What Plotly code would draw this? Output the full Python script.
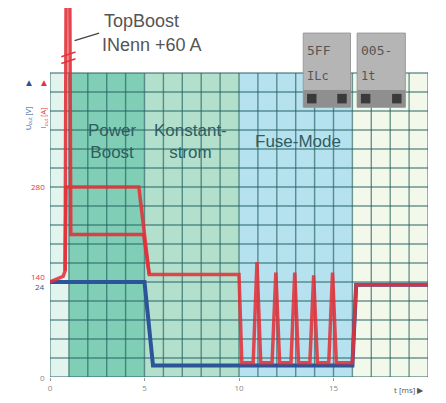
import plotly.graph_objects as go

# time axis [ms] and grid units (1 unit = 28 A / 4.8 V)
volt_x = [0, 5.0, 5.45, 16.0, 16.2, 20]
volt_y = [5.0, 5.0, 0.6, 0.6, 4.85, 4.85]

boost_x = [0, 0.7, 0.8, 0.85, 4.7, 5.25, 10.0, 10.15,
           10.75, 10.95, 11.15, 11.75, 11.95, 12.15, 12.75, 12.95, 13.15,
           13.75, 13.95, 14.15, 14.75, 14.95, 15.15, 16.0, 16.2, 20]
boost_y = [5.0, 5.3, 5.6, 10.0, 10.0, 5.4, 5.4, 0.75,
           0.75, 6.05, 0.75, 0.75, 5.5, 0.75, 0.75, 5.5, 0.75,
           0.75, 5.35, 0.75, 0.75, 5.5, 0.75, 0.75, 4.85, 4.85]

topboost_x = [0.8, 0.85, 1.05, 1.1, 4.95, 5.25]
topboost_y = [5.6, 19.6, 19.6, 7.5, 7.5, 5.4]

region_edges = [0, 1, 5, 10, 16, 20]
region_colors = ["#e3f4ee", "#7fceb5", "#b2e0cc", "#b6e1ef", "#f2f8ea"]

x_ticks = [0, 5, 10, 15]
x_tick_text = ["0", "5", "10", "15"]

grid_top = 16

fig = go.Figure()

fig.add_trace(go.Scatter(x=volt_x, y=volt_y, mode="lines",
                         line=dict(color="#2b5499", width=4), hoverinfo="skip"))
fig.add_trace(go.Scatter(x=topboost_x, y=topboost_y, mode="lines",
                         line=dict(color="#e3323a", width=3.5), opacity=0.9, hoverinfo="skip"))
fig.add_trace(go.Scatter(x=boost_x, y=boost_y, mode="lines",
                         line=dict(color="#e3323a", width=3.5), opacity=0.88, hoverinfo="skip"))

# background zones
for i, col in enumerate(region_colors):
    fig.add_shape(type="rect", x0=region_edges[i], x1=region_edges[i + 1], y0=0, y1=grid_top,
                  fillcolor=col, line=dict(width=0), layer="below")

# grid
for gx in range(0, 21):
    fig.add_shape(type="line", x0=gx, x1=gx, y0=0, y1=grid_top,
                  line=dict(color="rgba(35,95,95,0.65)", width=1.4), layer="below")
for gy in range(0, grid_top + 1):
    fig.add_shape(type="line", x0=0, x1=20, y0=gy, y1=gy,
                  line=dict(color="rgba(35,95,95,0.65)", width=1.4), layer="below")

# break marks on the TopBoost spike
for off in [0, 0.35]:
    fig.add_shape(type="line", x0=0.6, x1=1.35, y0=16.5 + off, y1=16.75 + off,
                  line=dict(color="#e3323a", width=1.5))

# leader line to TopBoost label
fig.add_shape(type="line", x0=1.3, x1=2.6, y0=17.7, y1=18.1, line=dict(color="#444", width=1.2))

# LCD displays
for bx0, bx1, top, bottom in [(13.4, 15.9, "5FF", "ILc"), (16.25, 18.8, "005-", "1t")]:
    fig.add_shape(type="rect", x0=bx0, x1=bx1, y0=14.2, y1=18.1,
                  fillcolor="#b5b5b5", line=dict(color="#9a9a9a", width=1))
    fig.add_shape(type="rect", x0=bx0, x1=bx1, y0=14.2, y1=15.1,
                  fillcolor="#8f8f8f", line=dict(width=0))
    fig.add_shape(type="rect", x0=bx0 + 0.2, x1=bx0 + 0.7, y0=14.4, y1=14.9,
                  fillcolor="#3a3a3a", line=dict(width=0))
    fig.add_shape(type="rect", x0=bx1 - 0.7, x1=bx1 - 0.2, y0=14.4, y1=14.9,
                  fillcolor="#3a3a3a", line=dict(width=0))
    fig.add_annotation(x=bx0 + 0.1, y=17.2, text=top, showarrow=False, xanchor="left",
                       font=dict(family="DejaVu Sans Mono", size=13, color="#555"))
    fig.add_annotation(x=bx0 + 0.1, y=15.85, text=bottom, showarrow=False, xanchor="left",
                       font=dict(family="DejaVu Sans Mono", size=12, color="#555"))

label_font = dict(family="Liberation Sans", size=17, color="#2f5d60")
fig.add_annotation(x=3.3, y=12.4, text="Power<br>Boost", showarrow=False, font=label_font)
fig.add_annotation(x=7.45, y=12.4, text="Konstant-<br>strom", showarrow=False, font=label_font)
fig.add_annotation(x=13.1, y=12.4, text="Fuse-Mode", showarrow=False, font=label_font)

top_font = dict(family="Liberation Sans", size=18, color="#555")
fig.add_annotation(x=2.75, y=18.75, text="TopBoost", showarrow=False, xanchor="left", font=top_font)
fig.add_annotation(x=2.65, y=17.45, text="INenn +60 A", showarrow=False, xanchor="left", font=top_font)

# y labels
ylab = [(0, "0", "#888", 0), (5, "140", "#e3323a", 5), (5, "24", "#2b5499", -5), (10, "280", "#e3323a", 0)]
for yv, txt, col, ys in ylab:
    fig.add_annotation(x=0, y=yv, text=txt, showarrow=False, xanchor="right", xshift=-3, yshift=ys,
                       font=dict(size=8, color=col))

# axis legend top-left
fig.add_annotation(xref="paper", yref="y", x=-0.074, y=15.5, text="▲", showarrow=False,
                   font=dict(size=10, color="#2b5499"))
fig.add_annotation(xref="paper", yref="y", x=-0.034, y=15.5, text="▲", showarrow=False,
                   font=dict(size=10, color="#e3323a"))
fig.add_annotation(xref="paper", yref="y", x=-0.074, y=13.6, text="U<sub>out</sub> [V]", showarrow=False,
                   textangle=-90, font=dict(size=7, color="#2b5499"))
fig.add_annotation(xref="paper", yref="y", x=-0.034, y=13.6, text="I<sub>out</sub> [A]", showarrow=False,
                   textangle=-90, font=dict(size=7, color="#e3323a"))

fig.add_annotation(x=19.0, y=0, text="t [ms] ▶", showarrow=False, yshift=-12,
                   font=dict(size=8, color="#555"))

# page body adds 8 px offset, so the figure is sized/margined to land the plot area at the right spot
fig.update_layout(
    width=438, height=395,
    margin=dict(l=42, r=18, t=0, b=26),
    plot_bgcolor="white", paper_bgcolor="white",
    showlegend=False,
    xaxis=dict(range=[0, 20], showgrid=False, zeroline=False, tickvals=x_ticks, ticktext=x_tick_text,
               ticks="outside", ticklen=3, tickcolor="#999", tickfont=dict(size=8, color="#888")),
    yaxis=dict(range=[0, 19.42], showgrid=False, zeroline=False, showticklabels=False),
)

fig.write_html("out.html")
